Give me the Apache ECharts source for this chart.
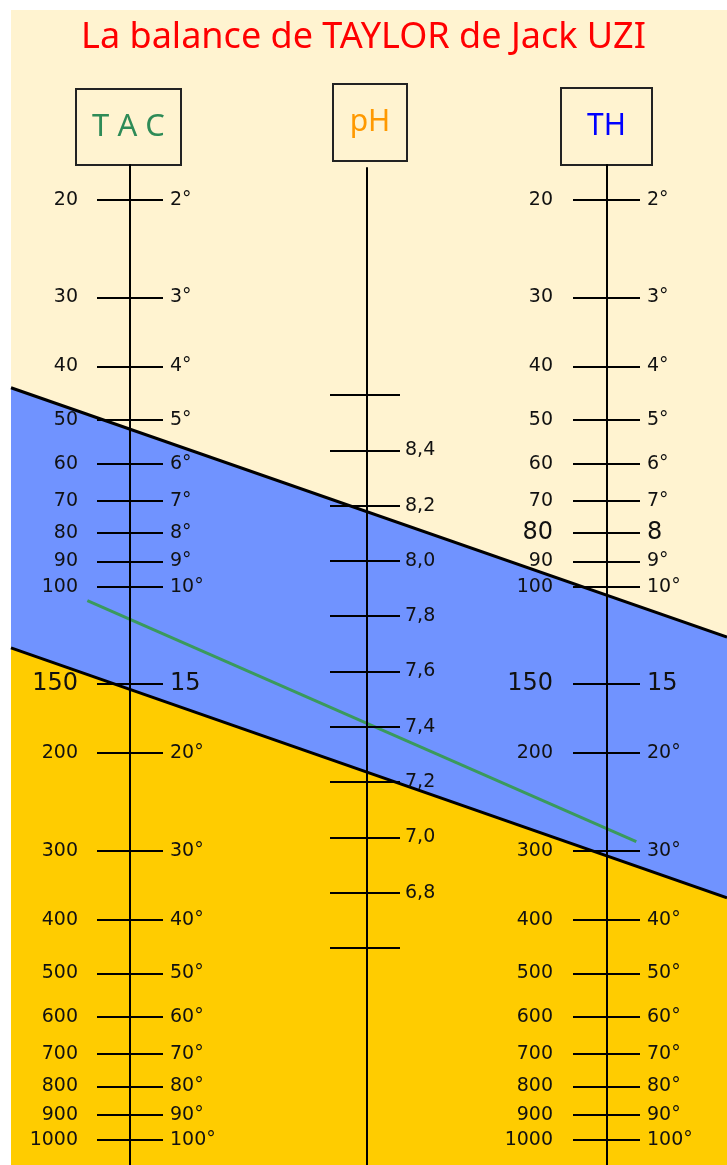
<!DOCTYPE html>
<html>
<head>
<meta charset="utf-8">
<title>La balance de TAYLOR</title>
<script src="https://cdn.jsdelivr.net/npm/echarts@6/dist/echarts.min.js"></script>
<style>
html,body{margin:0;padding:0;background:#fff;}
#main{width:727px;height:1165px;}
</style>
</head>
<body>
<div id="main"></div>
<script>
/* echelles de la balance */
var tacTicks = [20, 30, 40, 50, 60, 70, 80, 90, 100, 150, 200, 300, 400, 500, 600, 700, 800, 900, 1000];
var thTicks = [20, 30, 40, 50, 60, 70, 80, 90, 100, 150, 200, 300, 400, 500, 600, 700, 800, 900, 1000];
var phTicks = [6.6, 6.8, 7.0, 7.2, 7.4, 7.6, 7.8, 8.0, 8.2, 8.4, 8.6];
var phLabels = [6.8, 7.0, 7.2, 7.4, 7.6, 7.8, 8.0, 8.2, 8.4];
/* droites : [position (0 = TAC, 1 = pH, 2 = TH), valeur TAC/TH] */
var upperEdge = [[-0.5, 43.7], [2.5, 123.3]];
var lowerEdge = [[-0.5, 129], [2.5, 365]];
var greenLine = [[-0.18, 106], [2.12, 289]];

var cream = '#fff3d0', blue = '#7093ff', yellow = '#ffcc00';
var labelFont = 'DejaVu Sans';

var chart = echarts.init(document.getElementById('main'));

/*libelles TAC / TH*/
function leftLabel(v){
	if (v == 150) return '{big|150}';
	return '' + v;
}
function tacRight(v){
	if (v == 150) return '{big|15}';
	return (v / 10) + '°';
}
function thLeft(v){
	if (v == 150 || v == 80) return '{big|' + v + '}';
	return '' + v;
}
function thRight(v){
	if (v == 150) return '{big|15}';
	if (v == 80) return '{big|8}';
	return (v / 10) + '°';
}

function scaleAxis(grid, side, ticks, len, margin, fmt, showLine){
	return {
		type: 'log', gridIndex: grid, inverse: true, position: side,
		min: 17.29, max: 1109.9, z: 10,
		axisLine: { show: showLine, lineStyle: { color: '#000', width: 2 } },
		axisTick: { show: true, inside: false, length: len, customValues: ticks,
			lineStyle: { color: '#000', width: 2 } },
		axisLabel: { show: true, margin: margin, customValues: ticks, formatter: fmt,
			color: '#111', fontFamily: labelFont, fontSize: 19,
			rich: { big: { fontSize: 24, fontFamily: labelFont, color: '#111' } } },
		splitLine: { show: false }
	};
}

function phAxis(side, ticks, len, margin, showLabel, showLine){
	return {
		type: 'value', gridIndex: 2, position: side,
		min: 5.815, max: 9.421, z: 10,
		axisLine: { show: showLine, lineStyle: { color: '#000', width: 2 } },
		axisTick: { show: true, length: len, customValues: ticks,
			lineStyle: { color: '#000', width: 2 } },
		axisLabel: { show: showLabel, margin: margin, customValues: phLabels,
			color: '#111', fontFamily: labelFont, fontSize: 19,
			formatter: function(v){ return v.toFixed(1).replace('.', ','); } },
		splitLine: { show: false }
	};
}

function box(x, y, w, h, text, color, size){
	return {
		type: 'group', z: 20,
		children: [
			{ type: 'rect', shape: { x: x, y: y, width: w, height: h },
				style: { fill: cream, stroke: '#222', lineWidth: 2 } },
			{ type: 'text', x: x + w / 2, y: y + h / 2,
				style: { text: text, fill: color, font: size + 'px "Noto Sans"',
					align: 'center', verticalAlign: 'middle' } }
		]
	};
}

var option = {
	animation: false,
	backgroundColor: '#fff',
	title: {
		text: 'La balance de TAYLOR de Jack UZI',
		left: 'center', top: 15,
		textStyle: { color: '#ff0000', fontSize: 36, fontWeight: 'normal', fontFamily: 'Noto Sans' }
	},
	grid: [
		{ left: 11, top: 10, right: 0, bottom: 0, show: true, backgroundColor: cream, borderWidth: 0 },
		{ left: 130, top: 165, width: 0, bottom: 0 },
		{ left: 367, top: 168, width: 0, bottom: 0 },
		{ left: 607, top: 165, width: 0, bottom: 0 }
	],
	xAxis: [
		{ type: 'value', gridIndex: 0, min: -0.5, max: 2.5, show: false },
		{ type: 'value', gridIndex: 1, show: false },
		{ type: 'value', gridIndex: 2, show: false },
		{ type: 'value', gridIndex: 3, show: false }
	],
	yAxis: [
		{ type: 'log', gridIndex: 0, inverse: true, min: 9.071, max: 1109.9, show: false },
		scaleAxis(1, 'left', tacTicks, 33, 52, leftLabel, true),
		scaleAxis(1, 'right', tacTicks, 33, 40, tacRight, false),
		phAxis('left', phTicks, 37, 8, false, true),
		phAxis('right', phTicks, 33, 38, true, false),
		scaleAxis(3, 'left', thTicks, 34, 54, thLeft, true),
		scaleAxis(3, 'right', thTicks, 33, 40, thRight, false)
	],
	series: [
		{
			type: 'line', xAxisIndex: 0, yAxisIndex: 0, data: upperEdge,
			symbol: 'none', z: 1, lineStyle: { color: '#000', width: 3 },
			areaStyle: { color: blue, opacity: 1, origin: 'end' }
		},
		{
			type: 'line', xAxisIndex: 0, yAxisIndex: 0, data: lowerEdge,
			symbol: 'none', z: 2, lineStyle: { color: '#000', width: 3 },
			areaStyle: { color: yellow, opacity: 1, origin: 'end' }
		},
		{
			type: 'line', xAxisIndex: 0, yAxisIndex: 0, data: greenLine,
			symbol: 'none', z: 3, lineStyle: { color: '#3a9a5c', width: 3 }
		}
	],
	graphic: [
		box(76, 89, 105, 76, 'T A C', '#2e8b57', 31),
		box(333, 84, 74, 77, 'pH', '#ff9900', 30),
		box(561, 88, 91, 77, 'TH', '#0000ff', 30)
	]
};
chart.setOption(option);
</script>
</body>
</html>
